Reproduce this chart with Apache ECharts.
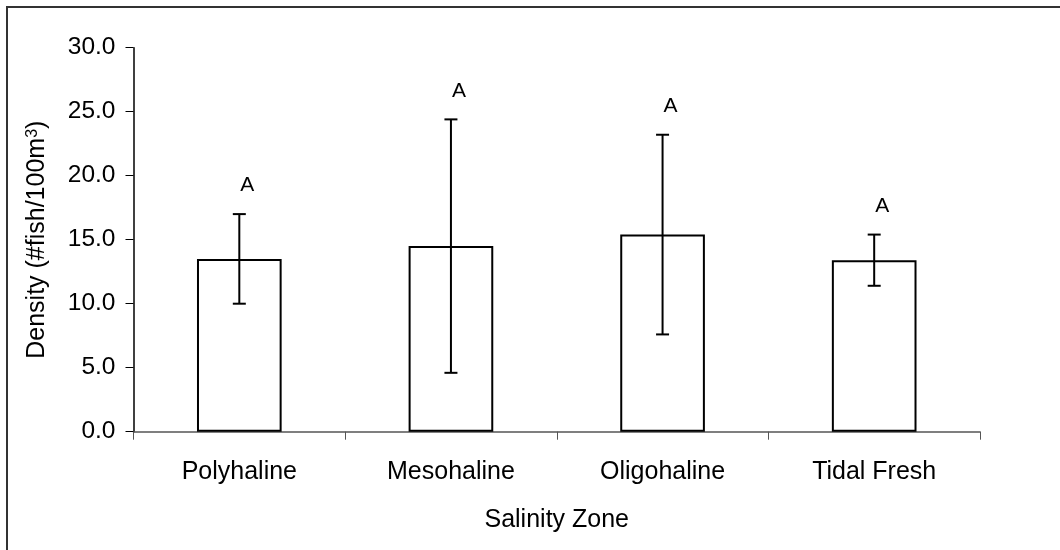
<!DOCTYPE html>
<html>
<head>
<meta charset="utf-8">
<script src="https://cdn.jsdelivr.net/npm/echarts@6/dist/echarts.min.js"></script>
<style>
  html, body { margin: 0; padding: 0; background: #fff; }
  #chart { width: 1060px; height: 550px; }
</style>
</head>
<body>
<div id="chart"></div>
<script>
// Mean fish density by salinity zone, with error-bar bounds and significance groups
var categories = ['Polyhaline', 'Mesohaline', 'Oligohaline', 'Tidal Fresh'];
var meanDensity = [13.5, 14.5, 15.4, 13.4];
var errorHigh = [17.0, 24.4, 23.2, 15.4];
var errorLow = [10.0, 4.6, 7.6, 11.4];
var groupLetters = ['A', 'A', 'A', 'A'];

var yMin = 0, yMax = 30, yStep = 5;

var FONT = 'Liberation Sans, Arial, sans-serif';

var errorData = categories.map(function (c, i) {
  return [i, errorLow[i], errorHigh[i], groupLetters[i]];
});

var chart = echarts.init(document.getElementById('chart'), null, { renderer: 'canvas' });

chart.setOption({
  animation: false,
  backgroundColor: '#fff',
  grid: { left: 133.5, right: 80, top: 47.7, bottom: 118.3, containLabel: false },
  graphic: [{
    type: 'rect',
    silent: true,
    z: 100,
    shape: { x: 7, y: 7, width: 1100, height: 600 },
    style: { fill: 'none', stroke: '#333', lineWidth: 2 }
  }],
  xAxis: {
    type: 'category',
    data: categories,
    name: 'Salinity Zone',
    nameLocation: 'middle',
    nameGap: 76,
    nameTextStyle: { fontFamily: FONT, fontSize: 25, color: '#000' },
    axisLine: { lineStyle: { color: '#555', width: 1.5 } },
    axisTick: { show: true, inside: false, length: 8, alignWithLabel: false, lineStyle: { color: '#555', width: 1 } },
    axisLabel: { fontFamily: FONT, fontSize: 25, color: '#000', margin: 28 },
    splitLine: { show: false }
  },
  yAxis: {
    type: 'value',
    min: yMin,
    max: yMax,
    interval: yStep,
    name: '{a|Density (#fish/100m}{s|3}{a|)}',
    nameLocation: 'middle',
    nameRotate: 90,
    nameGap: 84,
    nameTextStyle: {
      fontFamily: FONT,
      color: '#000',
      rich: {
        a: { fontFamily: FONT, fontSize: 25, color: '#000' },
        s: { fontFamily: FONT, fontSize: 16, color: '#000', verticalAlign: 'top' }
      }
    },
    axisLine: { show: true, lineStyle: { color: '#000', width: 1.5 } },
    axisTick: { show: true, inside: false, length: 8, lineStyle: { color: '#000', width: 1 } },
    axisLabel: {
      fontFamily: FONT, fontSize: 24.5, color: '#000', margin: 18,
      formatter: function (v) { return v.toFixed(1); }
    },
    splitLine: { show: false }
  },
  series: [
    {
      type: 'bar',
      data: meanDensity,
      barWidth: '40%',
      itemStyle: { color: '#fff', borderColor: '#000', borderWidth: 2 },
      z: 2
    },
    {
      type: 'custom',
      data: errorData,
      z: 3,
      renderItem: function (params, api) {
        var x = api.coord([api.value(0), 0])[0];
        var lo = api.coord([api.value(0), api.value(1)])[1];
        var hi = api.coord([api.value(0), api.value(2)])[1];
        var cap = 6.5;
        var style = { stroke: '#000', lineWidth: 2 };
        return {
          type: 'group',
          children: [
            { type: 'line', shape: { x1: x, y1: lo, x2: x, y2: hi }, style: style },
            { type: 'line', shape: { x1: x - cap, y1: hi, x2: x + cap, y2: hi }, style: style },
            { type: 'line', shape: { x1: x - cap, y1: lo, x2: x + cap, y2: lo }, style: style },
            {
              type: 'text',
              style: {
                x: x + 8, y: hi - 18,
                text: api.value(3),
                font: '21px ' + FONT,
                fill: '#000',
                textAlign: 'center',
                textVerticalAlign: 'bottom'
              }
            }
          ]
        };
      }
    }
  ]
});
</script>
</body>
</html>
